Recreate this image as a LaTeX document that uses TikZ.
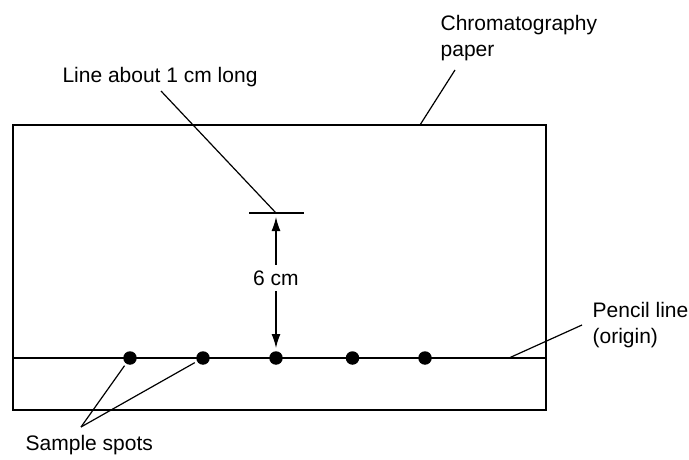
\documentclass[tikz,border=0pt]{standalone}
\usepackage{fontspec}
\setmainfont{Liberation Sans}
\usetikzlibrary{arrows.meta}
\begin{document}
\begin{tikzpicture}[x=1pt,y=-1pt,line width=1.3pt,
  lbl/.style={font=\fontsize{21}{26}\selectfont, inner sep=0pt, align=left},
  spot/.style={circle, fill=black, inner sep=0pt, minimum size=13.5pt},
  leader/.style={line width=1.2pt},
  dim/.style={line width=1.3pt, {Latex[length=14pt,width=9pt]}-{Latex[length=14pt,width=9pt]}, shorten <=4pt, shorten >=10pt}]
\useasboundingbox (0,0) rectangle (689,460);
% paper
\node (paper) [draw, minimum width=533pt, minimum height=285pt, inner sep=0pt] at (279.5,267.5) {};
\coordinate (plL) at (13,358);
\coordinate (plR) at (546,358);
\draw (plL) -- (plR);
% spots
\node (s1) [spot] at (130,358) {};
\node (s2) [spot] at (203,358) {};
\node (s3) [spot] at (276,358) {};
\node (s4) [spot] at (352.5,358) {};
\node (s5) [spot] at (425,358) {};
% short line and arrow
\coordinate (mL) at (249,213);
\coordinate (mR) at (304,213);
\coordinate (mC) at (276,213);
\draw (mL) -- (mR);
\draw [dim] (mC) -- (s3.center);
\node (six) [lbl, fill=white, inner ysep=6pt, inner xsep=2pt] at (276,278) {6 cm};
% labels
\node (chrom) [lbl, anchor=north west] at (440,15) {Chromatography\\paper};
\node (lineab) [lbl] at (160,77) {Line about 1 cm long};
\node (pencil) [lbl, anchor=north west] at (592,302) {Pencil line\\(origin)};
\node (sample) [lbl, anchor=west] at (25,445) {Sample spots};
% leaders
\coordinate (cA) at (420,125);
\coordinate (cB) at (455,70);
\draw [leader] (cA) -- (cB);
\coordinate (lB) at (161,91);
\draw [leader] (mC) -- (lB);
\coordinate (pA) at (509,358);
\coordinate (pB) at (582,325);
\draw [leader] (pA) -- (pB);
\coordinate (sA) at (81,427);
\draw [leader, shorten >=2pt] (sA) -- (s1);
\draw [leader, shorten >=2pt] (sA) -- (s2);
\end{tikzpicture}
\end{document}
